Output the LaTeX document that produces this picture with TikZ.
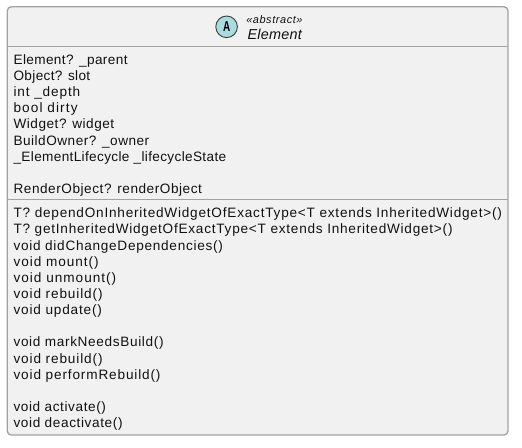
\documentclass[tikz,border=0pt]{standalone}
\usepackage{fontspec}
\setmainfont{Liberation Sans}
\definecolor{bodyfill}{HTML}{F1F1F1}
\definecolor{cir}{HTML}{A9DCDF}
\definecolor{lin}{HTML}{A2A2A2}
\definecolor{txt}{HTML}{111111}
\newsavebox{\fitboxa}
\newsavebox{\fitboxb}
% sets #2 with the letter spacing that makes it #1 px wide
\newcommand{\fitline}[2]{%
 \sbox{\fitboxa}{#2}%
 \sbox{\fitboxb}{\addfontfeature{LetterSpace=10}#2}%
 \pgfmathsetmacro{\fitls}{10*(#1*0.75-\the\wd\fitboxa)/(\the\wd\fitboxb-\the\wd\fitboxa)}%
 {\addfontfeature{LetterSpace=\fitls}#2}}
\tikzset{
 member/.style={anchor=base west,inner sep=0pt,font=\fontsize{10.2pt}{11pt}\selectfont,text=txt},
 head/.style={anchor=base west,inner sep=0pt,text=txt},
}
\begin{document}
\begin{tikzpicture}[x=0.75pt,y=-0.75pt]
\useasboundingbox (0,0) rectangle (522,447);
\fill[white] (0,0) rectangle (522,447);
\draw[lin,line width=1pt,fill=bodyfill,rounded corners=3pt] (7.3,6.8) rectangle (508,435);
\draw[lin,line width=1pt] (7.3,46.6)--(508,46.6);
\draw[lin,line width=1pt] (7.3,199.8)--(508,199.8);
\node[circle,draw=black!75,line width=0.7pt,fill=cir,minimum size=16.2pt,inner sep=0pt,text=black] (icon) at (226.6,26.8) {\resizebox{5.4pt}{7.4pt}{\bfseries A}};
\node[head,font=\fontsize{8.2pt}{10pt}\selectfont\itshape] (st) at (246,23) {\fitline{56.3}{«abstract»}};
\node[head,font=\fontsize{10.8pt}{12pt}\selectfont\itshape] (nm) at (247.3,39.6) {\fitline{54.4}{Element}};
\foreach \y/\e/\t in {
64.3/127.3/{Element? \_parent},80.4/90/{Object? slot},96.6/80/{int \_depth},112.7/77.3/{bool dirty},128.9/114/{Widget? widget},145/149/{BuildOwner? \_owner},161.1/226/{\_ElementLifecycle \_lifecycleState},193.4/201.7/{RenderObject? renderObject},
217.7/501.7/{T? dependOnInheritedWidgetOfExactType<T extends InheritedWidget>()},233.8/452.3/{T? getInheritedWidgetOfExactType<T extends InheritedWidget>()},250/222.7/{void didChangeDependencies()},266.1/98.3/{void mount()},282.3/116/{void unmount()},298.4/102.3/{void rebuild()},314.5/101.7/{void update()},346.8/163.3/{void markNeedsBuild()},363/102.3/{void rebuild()},379.1/160.3/{void performRebuild()},411.4/105.7/{void activate()},427.5/122.3/{void deactivate()}}
{\pgfmathsetmacro{\wpx}{\e-13.3}
 \node[member] at (13.3,\y) {\fitline{\wpx}{\t}};}
\end{tikzpicture}
\end{document}
